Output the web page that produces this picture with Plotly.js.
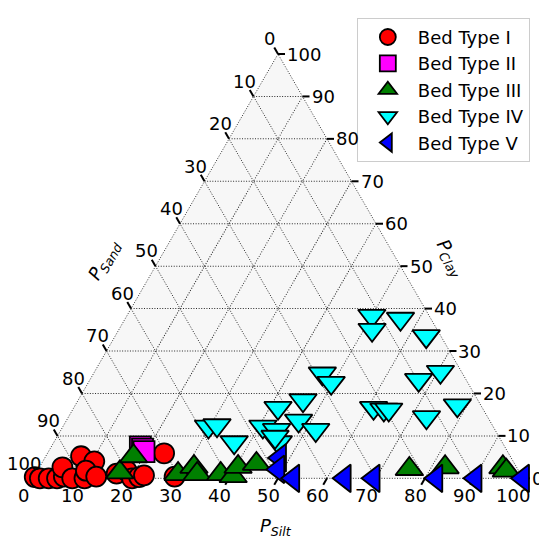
<!DOCTYPE html>
<html><head><meta charset="utf-8">
<script src="https://cdn.plot.ly/plotly-3.0.1.min.js"></script>
<style>html,body{margin:0;padding:0;background:#fff}#chart{width:539px;height:539px}</style>
</head><body><div id="chart"></div>
<script>
// Percentages (clay, silt, sand)
const bed1Clay = [0.3, 0, 0, 0, 0.4, 2.6, 0, 0, 5.2, 4.0, 1.8, 0.4, 1.1, 1.8, 0, 0.3, 0.7, 5.9, 0.4];
const bed1Silt = [0.2, 1.4, 3.2, 4.9, 6.1, 4.7, 8.0, 10.5, 7.2, 10.5, 9.9, 12.7, 16.5, 18.2, 20.2, 21.5, 22.3, 23.8, 28.7];
const bed1Sand = [99.5, 98.6, 96.8, 95.1, 93.5, 92.7, 92.0, 89.5, 87.6, 85.5, 88.3, 86.9, 82.4, 80.0, 79.8, 78.2, 77.0, 70.3, 70.9];

const bed2Clay = [7.4, 6.9, 6.3];
const bed2Silt = [18.2, 18.9, 19.5];
const bed2Sand = [74.4, 74.2, 74.2];

const bed3Clay = [1.4, 5.2, 1.0, 2.7, 1.0, 1.0, 0.5, 2.7, 3.4, 2.2, 2.6, 2.6, 1.8];
const bed3Silt = [17.0, 17.9, 29.1, 31.5, 33.0, 37.8, 40.6, 40.5, 43.9, 75.7, 82.8, 94.6, 95.7];
const bed3Sand = [81.6, 76.9, 69.9, 65.8, 66.0, 61.2, 58.9, 56.8, 52.7, 22.1, 14.6, 2.8, 2.5];

const bed4Clay = [38.3, 35.0, 37.6, 33.5, 23.2, 25.1, 16.6, 16.2, 16.2, 14.4, 17.2, 24.7, 22.5, 18.4, 16.6, 13.6, 11.4, 12.2, 12.5, 8.5, 12.2, 11.4, 8.5, 9.8];
const bed4Silt = [50.0, 51.7, 56.2, 63.5, 67.1, 70.6, 61.2, 63.5, 64.5, 73.1, 78.0, 46.7, 49.6, 45.9, 41.7, 47.4, 52.0, 29.7, 31.3, 36.8, 40.8, 44.0, 45.8, 44.5];
const bed4Sand = [11.7, 13.3, 6.2, 3.0, 9.7, 4.3, 22.2, 20.3, 19.3, 12.5, 4.8, 28.6, 27.9, 35.7, 41.7, 39.0, 36.6, 58.1, 56.2, 54.7, 47.0, 44.6, 45.7, 45.7];

const bed5Clay = [4.8, 2.1, 0, 0, 0, 0, 0, 0];
const bed5Silt = [48.0, 49.0, 53.1, 63.6, 69.5, 82.3, 90.3, 100];
const bed5Sand = [47.2, 48.9, 46.9, 36.4, 30.5, 17.7, 9.7, 0];

const seriesNames = ['Bed Type I', 'Bed Type II', 'Bed Type III', 'Bed Type IV', 'Bed Type V'];
const tickValues = [0, 10, 20, 30, 40, 50, 60, 70, 80, 90, 100];
const tickLabels = ['0', '10', '20', '30', '40', '50', '60', '70', '80', '90', '100'];

const styles = [
  {symbol: 'circle', color: '#ff0000', size: 20},
  {symbol: 'square', color: '#ff00ff', size: 21},
  {symbol: 'triangle-up', color: '#007f00', size: 24},
  {symbol: 'triangle-down', color: '#00ffff', size: 24},
  {symbol: 'triangle-left', color: '#0000ff', size: 24}
];
const clays = [bed1Clay, bed2Clay, bed3Clay, bed4Clay, bed5Clay];
const silts = [bed1Silt, bed2Silt, bed3Silt, bed4Silt, bed5Silt];
const sands = [bed1Sand, bed2Sand, bed3Sand, bed4Sand, bed5Sand];

// ---- ternary subplot geometry (same rule Plotly uses to fit the triangle in its domain)
const W = 539, H = 539;
const DOM_X = [0.0613, 0.9703], DOM_Y = [0.0812, 0.9312];
const wmax = (DOM_X[1] - DOM_X[0]) * W, hmax = (DOM_Y[1] - DOM_Y[0]) * H;
const wOverH = 2 / Math.sqrt(3);
let triW, triH;
if (wmax > wOverH * hmax) { triH = hmax; triW = triH * wOverH; } else { triW = wmax; triH = triW / wOverH; }
const cxPx = W * (DOM_X[0] + DOM_X[1]) / 2, cyPx = H * (1 - (DOM_Y[0] + DOM_Y[1]) / 2);
const x0Px = cxPx - triW / 2, yBotPx = cyPx + triH / 2;
function ternPx(a, c) { return [x0Px + (c + a / 2) / 100 * triW, yBotPx - a / 100 * triH]; }
function px2paper(p) { return [p[0] / W, 1 - p[1] / H]; }

// Clockwise-style ticks: left edge = sand, bottom edge = silt, right edge = clay
const S3 = Math.sqrt(3) / 2;
const shapes = [];
const annotations = [];
const tickFont = {size: 18, family: 'DejaVu Sans', color: '#000'};
function addTick(edge, dir, tlen, ldist, label, xanchor) {
  const e = px2paper(edge);
  const t = px2paper([edge[0] + dir[0] * tlen, edge[1] + dir[1] * tlen]);
  shapes.push({type: 'line', xref: 'paper', yref: 'paper', x0: e[0], y0: e[1], x1: t[0], y1: t[1],
               line: {color: '#000', width: 2}, layer: 'below'});
  const l = px2paper([edge[0] + dir[0] * ldist, edge[1] + dir[1] * ldist]);
  annotations.push({text: label, xref: 'paper', yref: 'paper', x: l[0], y: l[1], showarrow: false,
                    xanchor: xanchor, yanchor: 'middle', font: tickFont, borderpad: 0});
}
tickValues.forEach((v, i) => {
  addTick(ternPx(100 - v, 0), [-0.5, -S3], 7.5, 17.6, tickLabels[i], 'center');   // sand
  addTick(ternPx(0, v), [-0.5, S3], 7.5, 19.7, tickLabels[i], 'center');          // silt
  addTick(ternPx(v, 100 - v), [1, 0], 7, 8, tickLabels[i], 'left');              // clay
});
// triangle background + dotted edges
const pL = px2paper(ternPx(0, 0)), pR = px2paper(ternPx(0, 100)), pT = px2paper(ternPx(100, 0));
shapes.unshift({type: 'path', xref: 'paper', yref: 'paper', layer: 'below',
  path: `M ${pL[0]},${pL[1]} L ${pR[0]},${pR[1]} L ${pT[0]},${pT[1]} Z`,
  fillcolor: '#f7f7f7', line: {color: '#333', width: 1, dash: '1px,1.6px'}});

annotations.push(
  {text: '<i>P<sub>Silt</sub></i>', xref: 'paper', yref: 'paper', x: 276 / W, y: 1 - 527 / H,
   xanchor: 'center', yanchor: 'middle', showarrow: false, font: {size: 18, family: 'DejaVu Sans'}},
  {text: '<i>P<sub>Sand</sub></i>', xref: 'paper', yref: 'paper', x: 105 / W, y: 1 - 260 / H,
   xanchor: 'center', yanchor: 'middle', showarrow: false, textangle: -60, font: {size: 18, family: 'DejaVu Sans'}},
  {text: '<i>P<sub>Clay</sub></i>', xref: 'paper', yref: 'paper', x: 450 / W, y: 1 - 258 / H,
   xanchor: 'center', yanchor: 'middle', showarrow: false, textangle: 60, font: {size: 18, family: 'DejaVu Sans'}}
);

const dataTraces = seriesNames.map((name, i) => ({
  type: 'scatterternary',
  mode: 'markers',
  name: name,
  a: clays[i], b: sands[i], c: silts[i],
  cliponaxis: false,
  marker: {symbol: styles[i].symbol, color: styles[i].color, size: styles[i].size,
           line: {color: '#000', width: 1.8}, opacity: 1}
}));

const axisCommon = {
  tickmode: 'array', tickvals: tickValues, ticks: '', showticklabels: false,
  showgrid: true, gridcolor: '#2a2a2a', griddash: '1px,1.6px', gridwidth: 1,
  showline: false,
  title: {text: ''}
};

const layout = {
  width: W, height: H,
  margin: {l: 0, r: 0, t: 0, b: 0},
  paper_bgcolor: '#fff',
  font: {family: 'DejaVu Sans', color: '#000'},
  showlegend: true,
  ternary: {
    sum: 100,
    domain: {x: DOM_X, y: DOM_Y},
    bgcolor: 'rgba(0,0,0,0)',
    aaxis: Object.assign({}, axisCommon),
    baxis: Object.assign({}, axisCommon),
    caxis: Object.assign({}, axisCommon)
  },
  legend: {
    x: 0.662, y: 0.967, xanchor: 'left', yanchor: 'top',
    bgcolor: 'rgba(255,255,255,0.85)', bordercolor: '#cccccc', borderwidth: 1,
    font: {size: 18, family: 'DejaVu Sans', color: '#000'},
    itemwidth: 50, itemsizing: 'trace'
  },
  shapes: shapes,
  annotations: annotations
};

Plotly.newPlot('chart', dataTraces, layout, {displayModeBar: false, staticPlot: true});
</script></body></html>
